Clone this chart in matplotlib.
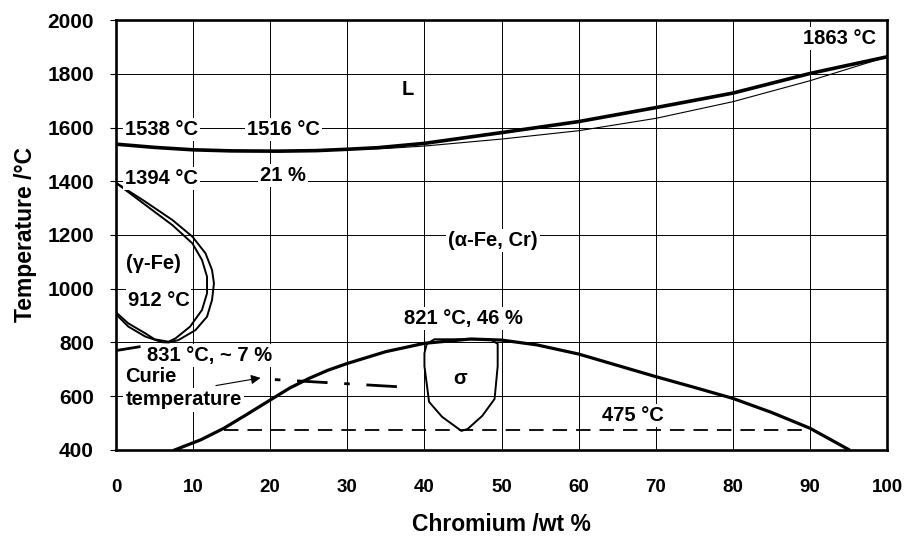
import matplotlib
matplotlib.use('Agg')
import matplotlib.pyplot as plt

plt.rcParams['font.family'] = ['Liberation Sans', 'DejaVu Sans']
plt.rcParams['font.weight'] = 'bold'

# liquidus / solidus (wt % Cr, degC)
liq_x = [0, 5, 10, 15, 21, 26, 30, 34, 40, 50, 60, 70, 80, 90, 100]
liq_t = [1538, 1526, 1517, 1513, 1512, 1514, 1519, 1525, 1541, 1581, 1622, 1674, 1728, 1801, 1863]
sol_x = [21, 26, 30, 35, 40, 50, 60, 70, 80, 90, 100]
sol_t = [1512, 1514, 1518, 1522, 1531, 1557, 1588, 1634, 1696, 1774, 1863]

# gamma loop, inner and outer boundary
gin_x = [0, 3.8, 7.3, 9.9, 11.15, 11.8, 11.8, 11.15, 9.6, 7.7, 6.8, 5.0, 3.8, 1.6, 0]
gin_t = [1394, 1312, 1237, 1169, 1107, 1045, 983, 921, 859, 815, 803, 812, 834, 871, 912]
gout_x = [0, 3.8, 7.3, 9.9, 11.6, 12.45, 12.7, 12.45, 11.8, 10.3, 8.1, 6.8, 6.0, 3.8, 1.6, 0]
gout_t = [1394, 1324, 1256, 1194, 1132, 1070, 1020, 958, 896, 846, 809, 800, 801, 822, 859, 905]

# sigma / (alpha-Fe, Cr) boundary
sig_x = [7.6, 11, 14, 17, 20, 22.5, 25, 27.5, 30, 35, 40, 46, 50, 54.6, 60, 65, 70, 75, 80, 85, 90, 95]
sig_t = [400, 438, 481, 533, 586, 630, 666, 697, 722, 766, 797, 813, 809, 791, 757, 715, 673, 633, 592, 540, 481, 402]

# sigma single phase region
sreg_x = [40.3, 40.0, 40.0, 40.6, 42.3, 44.8, 45.6, 47.5, 49.1, 49.5, 49.5, 48.5, 41.3, 40.3]
sreg_t = [795, 760, 712, 579, 523, 471, 478, 527, 590, 712, 795, 812, 812, 795]

# Curie temperature
curie_left_x = [0, 3]
curie_left_t = [770, 784]
curie_x = [20.6, 38]
curie_t = [662, 633]

# 475 degC embrittlement line
emb_x = [14, 90]
emb_t = [475, 475]

xticks = list(range(0, 101, 10))
yticks = list(range(400, 2001, 200))

labels = [
    ("1538 °C", 5.9, 1591),
    ("1516 °C", 21.7, 1591),
    ("21 %", 21.7, 1423),
    ("1394 °C", 5.9, 1411),
    ("(γ-Fe)", 4.85, 1095),
    ("912 °C", 5.5, 958),
    ("831 °C, ~ 7 %", 12.1, 753),
    ("σ", 44.6, 667),
    ("821 °C, 46 %", 45.0, 890),
    ("(α-Fe, Cr)", 48.9, 1178),
    ("L", 37.9, 1742),
    ("475 °C", 67.0, 530),
    ("1863 °C", 93.8, 1932),
]


def main():
    fig = plt.figure(figsize=(9.08, 5.38), dpi=100)
    ax = fig.add_axes([0.1278, 0.1636, 0.8491, 0.7992])

    ax.set_xlim(0, 100)
    ax.set_ylim(400, 2000)
    ax.set_xticks(xticks)
    ax.set_yticks(yticks)
    ax.grid(True, color='black', linewidth=0.7, zorder=0)
    ax.set_axisbelow(True)
    for sp in ax.spines.values():
        sp.set_linewidth(1.9)
    ax.tick_params(axis='x', length=0, pad=21, labelsize=13.5)
    ax.tick_params(axis='y', length=4, width=0.8, pad=12, labelsize=15)
    for lab in ax.get_xticklabels() + ax.get_yticklabels():
        lab.set_fontweight('bold')

    ax.plot(liq_x, liq_t, color='black', linewidth=2.6, zorder=3)
    ax.plot(sol_x, sol_t, color='black', linewidth=0.8, zorder=3)
    ax.plot(gin_x, gin_t, color='black', linewidth=1.4, zorder=3)
    ax.plot(gout_x, gout_t, color='black', linewidth=1.4, zorder=3)
    ax.plot(sig_x, sig_t, color='black', linewidth=2.3, zorder=3)
    ax.plot(sreg_x, sreg_t, color='black', linewidth=1.4, zorder=3)
    ax.plot(curie_left_x, curie_left_t, color='black', linewidth=2.0, zorder=3)
    ax.plot(curie_x, curie_t, color='black', linewidth=2.0, zorder=3,
            dashes=(2, 6, 11, 6))
    ax.plot(emb_x, emb_t, color='black', linewidth=1.3, zorder=3,
            dashes=(8, 5))

    box = dict(boxstyle='square,pad=0.1', facecolor='white', edgecolor='none')
    for txt, x, t in labels:
        ax.text(x, t, txt, fontsize=14.5, fontweight='bold', ha='center',
                va='center', bbox=box, zorder=5)
    ax.text(1.2, 675, "Curie", fontsize=14.5, fontweight='bold', ha='left',
            va='center', bbox=box, zorder=5)
    ax.text(1.2, 586, "temperature", fontsize=14.5, fontweight='bold',
            ha='left', va='center', bbox=box, zorder=5)

    ax.annotate("", xy=(19.1, 670), xytext=(12.6, 638),
                arrowprops=dict(arrowstyle='-|>', color='black', lw=0.8,
                                mutation_scale=14),
                zorder=5)

    ax.set_xlabel("Chromium /wt %", fontsize=16.5, fontweight='bold', labelpad=12)
    ax.set_ylabel("Temperature /°C", fontsize=16.5, fontweight='bold', labelpad=7)

    fig.savefig('out.png', dpi=100)
    plt.close(fig)


if __name__ == "__main__":
    main()
